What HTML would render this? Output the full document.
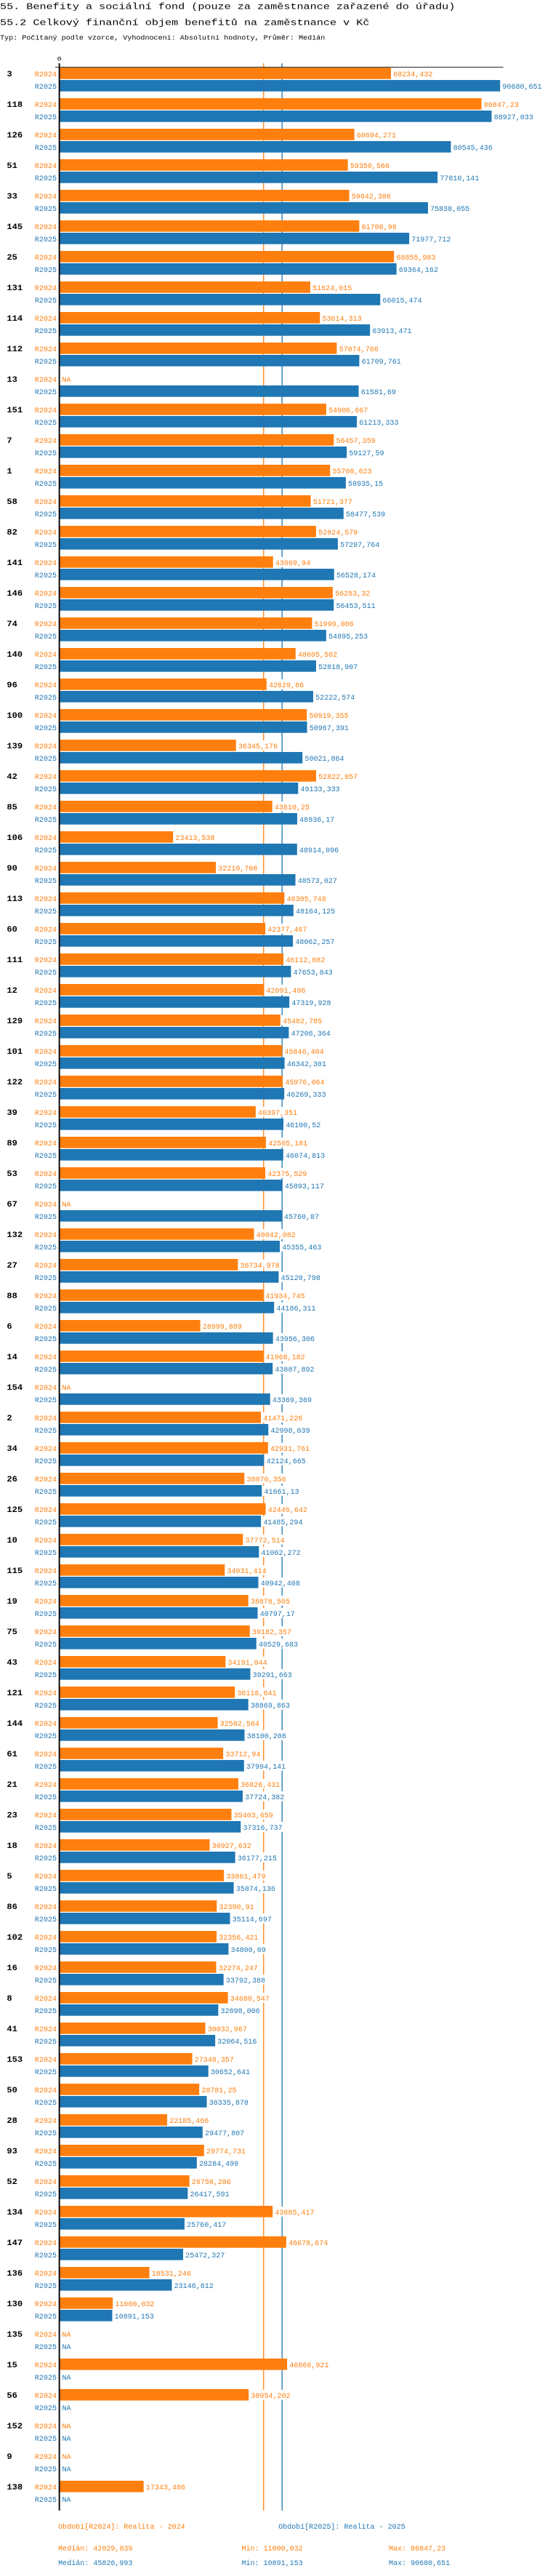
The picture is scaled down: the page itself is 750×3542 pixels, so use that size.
<!DOCTYPE html>
<html><head><meta charset="utf-8"><style>
html,body{margin:0;padding:0;background:#fff;}
svg{display:block;}
</style></head><body>
<svg id="chart" xmlns="http://www.w3.org/2000/svg" width="750" height="3542" viewBox="0 0 517.3 3542" preserveAspectRatio="none" font-family="'Liberation Mono', 'DejaVu Sans Mono', monospace">
<text x="0" y="12.5" font-size="12" textLength="432" lengthAdjust="spacingAndGlyphs" fill="#000">55. Benefity a sociální fond (pouze za zaměstnance zařazené do úřadu)</text>
<text x="0" y="34.5" font-size="12" textLength="350.7" lengthAdjust="spacingAndGlyphs" fill="#000">55.2 Celkový finanční objem benefitů na zaměstnance v Kč</text>
<text x="0" y="54.5" font-size="9" textLength="308.5" lengthAdjust="spacingAndGlyphs" fill="#000">Typ: Počítaný podle vzorce, Vyhodnocení: Absolutní hodnoty, Průměr: Medián</text>
<g id="plot"></g>
</svg>
<script>
const categories = ["3","118","126","51","33","145","25","131","114","112","13","151","7","1","58","82","141","146","74","140","96","100","139","42","85","106","90","113","60","111","12","129","101","122","39","89","53","67","132","27","88","6","14","154","2","34","26","125","10","115","19","75","43","121","144","61","21","23","18","5","86","102","16","8","41","153","50","28","93","52","134","147","136","130","135","15","56","152","9","138"];
const values2024 = [68234.432,86847.23,60694.271,59350.566,59642.386,61708.96,68855.983,51624.015,53614.313,57074.766,null,54906.667,56457.359,55708.623,51721.377,52824.579,43969.94,56253.32,51999.006,48605.502,42629.86,50919.355,36345.176,52822.857,43810.25,23413.538,32210.708,46305.748,42377.467,46112.082,42091.496,45482.785,45846.404,45976.064,40397.351,42505.181,42375.529,null,40042.082,36734.978,41934.745,28999.889,41968.182,null,41471.226,42931.761,38070.356,42446.642,37772.514,34031.414,38878.505,39182.357,34191.044,36116.641,32582.564,33712.94,36826.431,35403.659,30927.632,33861.479,32390.91,32356.421,32274.247,34680.547,30032.967,27348.357,28781.25,22185.466,29774.731,26758.286,43885.417,46678.674,18531.246,11000.032,null,46866.921,38954.202,null,null,17343.486];
const values2025 = [90680.651,88927.033,80545.436,77810.141,75838.055,71977.712,69364.162,66015.474,63913.471,61709.761,61581.69,61213.333,59127.59,58935.15,58477.539,57297.764,56528.174,56453.511,54895.253,52818.907,52222.574,50967.391,50021.864,49133.333,48936.17,48914.096,48573.027,48164.125,48062.257,47653.843,47319.928,47206.364,46342.301,46269.333,46100.52,46074.813,45893.117,45760.87,45355.463,45120.798,44186.311,43956.306,43887.892,43369.369,42998.039,42124.665,41661.13,41485.294,41062.272,40942.408,40797.17,40529.683,39291.663,38869.863,38100.208,37994.141,37724.382,37316.737,36177.215,35874.136,35114.697,34800.09,33792.388,32698.006,32064.516,30652.641,30335.878,29477.807,28284.499,26417.591,25760.417,25472.327,23146.612,10891.153,null,null,null,null,null,null];
const seriesNames = ["R2024","R2025"];
const legendLabels = ["Období[R2024]: Realita - 2024","Období[R2025]: Realita - 2025"];
const medians = [42029.839,45826.993];
const axisTicks = [0];

const NS = "http://www.w3.org/2000/svg";
const plot = document.getElementById("plot");
const colors = ["#ff7f0e","#1f77b4"];
const X0 = 56.3, X1 = 474.7, TOP = 93, STEP = 42, BAR_H = 15.7, CW = 4.15;
const allVals = values2024.concat(values2025).filter(v => v !== null);
const vmax = Math.max(...allVals);
function xs(v){ return X0 + (v / vmax) * (X1 - X0); }
function yBar(i, s){ return TOP + i * STEP + s * 17; }
function fmt(v){ return String(v).replace(".", ","); }
function mk(tag, attrs){ const e = document.createElementNS(NS, tag); for (const k in attrs) e.setAttribute(k, attrs[k]); return e; }
function txt(x, y, s, fill, size, anchor, cw, weight){
  const t = mk("text", {x:x, y:y, fill:fill, "font-size":size, "text-anchor":anchor, textLength:(s.length*cw).toFixed(2), lengthAdjust:"spacingAndGlyphs"});
  if (weight) t.setAttribute("font-weight", weight);
  t.textContent = s;
  return t;
}
const bottom = TOP + categories.length * STEP - 1;

// tick labels
axisTicks.forEach(t => {
  const el = txt(xs(t), 83.5, String(t), "#000", 8, "middle", 4.15);
  
  
  plot.appendChild(el);
});
// median lines
medians.forEach((m, s) => {
  const ln = mk("line", {x1:xs(m), x2:xs(m), y1:87, y2:bottom, stroke:colors[s], "stroke-width":0.9});
  
  
  plot.appendChild(ln);
});
// top axis
const ax = mk("line", {x1:52.3, x2:477.7, y1:92.3, y2:92.3, stroke:"#000", "stroke-width":0.9});


plot.appendChild(ax);

categories.forEach((c, i) => {
  const g = mk("g", {});
  
  
  plot.appendChild(g);
  const cl = txt(6.5, yBar(i,0) + 12, c, "#000", 11, "start", 5, "bold");
  
  
  g.appendChild(cl);
  [values2024[i], values2025[i]].forEach((v, s) => {
    const y = yBar(i, s);
    const sl = txt(53.8, y + 12, seriesNames[s], colors[s], 10, "end", CW);
    
    
    g.appendChild(sl);
    if (v === null) {
      const na = txt(59, y + 12, "NA", colors[s], 10, "start", CW);
      
      
      g.appendChild(na);
      return;
    }
    const bar = mk("rect", {x:X0 + 0.6, y:y, width:Math.max(0, xs(v) - X0 - 0.6), height:BAR_H, fill:colors[s]});
    
    
    g.appendChild(bar);
    const s2 = fmt(v);
    const bg = mk("rect", {x:xs(v) + 1, y:y + 1, width:s2.length*CW + 2, height:BAR_H - 2, fill:"#fff"});
    
    
    g.appendChild(bg);
    const vl = txt(xs(v) + 2.2, y + 12, s2, colors[s], 10, "start", CW);
    
    
    g.appendChild(vl);
  });
});
// vertical axis
const vax = mk("line", {x1:X0, x2:X0, y1:87, y2:bottom, stroke:"#000", "stroke-width":1.3});


plot.appendChild(vax);

// legend & stats
const legX = [55.3, 264.3];
legendLabels.forEach((l, s) => {
  const t = txt(legX[s], bottom + 25, l, colors[s], 10, "start", CW);
  
  
  plot.appendChild(t);
});
[values2024, values2025].forEach((arr, s) => {
  const vals = arr.filter(v => v !== null);
  const y = bottom + 55 + s * 20;
  const items = ["Medián: " + fmt(medians[s]), "Min: " + fmt(Math.min(...vals)), "Max: " + fmt(Math.max(...vals))];
  const xsPos = [55.3, 229.3, 369];
  items.forEach((it, k) => {
    const t = txt(xsPos[k], y, it, colors[s], 10, "start", CW);
    
    
    plot.appendChild(t);
  });
});
</script>
</body></html>
